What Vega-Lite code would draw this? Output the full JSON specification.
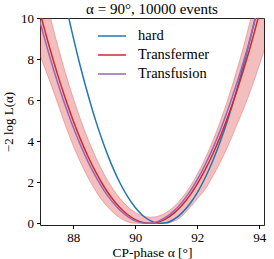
{
  "$schema": "https://vega.github.io/schema/vega-lite/v6.json",
  "autosize": {"type": "none"},
  "padding": {"left": 40, "top": 18, "right": 10, "bottom": 34},
  "width": 224,
  "height": 207,
  "title": {"text": "α = 90°, 10000 events", "frame": "group", "fontSize": 15, "fontWeight": "normal", "font": "Liberation Serif", "color": "#000", "offset": -17, "anchor": "middle", "baseline": "alphabetic"},
  "datasets": {
    "band": [
      {"x": 86.75, "hi": 13.38, "lo": 8.9},
      {"x": 87.0, "hi": 11.69, "lo": 7.9},
      {"x": 87.25, "hi": 10.12, "lo": 6.9},
      {"x": 87.5, "hi": 8.67, "lo": 5.85},
      {"x": 87.75, "hi": 7.33, "lo": 4.76},
      {"x": 88.0, "hi": 6.11, "lo": 3.78},
      {"x": 88.25, "hi": 5.01, "lo": 2.92},
      {"x": 88.5, "hi": 4.02, "lo": 2.16},
      {"x": 88.75, "hi": 3.15, "lo": 1.52},
      {"x": 89.0, "hi": 2.39, "lo": 0.99},
      {"x": 89.25, "hi": 1.75, "lo": 0.58},
      {"x": 89.5, "hi": 1.23, "lo": 0.27},
      {"x": 89.75, "hi": 0.82, "lo": 0.08},
      {"x": 90.0, "hi": 0.53, "lo": 0},
      {"x": 90.25, "hi": 0.36, "lo": 0},
      {"x": 90.5, "hi": 0.30, "lo": 0},
      {"x": 90.75, "hi": 0.36, "lo": 0},
      {"x": 91.0, "hi": 0.53, "lo": 0},
      {"x": 91.25, "hi": 0.82, "lo": 0.1},
      {"x": 91.5, "hi": 1.23, "lo": 0.35},
      {"x": 91.75, "hi": 1.75, "lo": 0.75},
      {"x": 92.0, "hi": 2.39, "lo": 1.2},
      {"x": 92.25, "hi": 3.15, "lo": 1.65},
      {"x": 92.5, "hi": 4.02, "lo": 2.3},
      {"x": 92.75, "hi": 5.01, "lo": 3.0},
      {"x": 93.0, "hi": 6.11, "lo": 3.8},
      {"x": 93.25, "hi": 7.33, "lo": 4.7},
      {"x": 93.5, "hi": 8.67, "lo": 5.6},
      {"x": 93.75, "hi": 10.12, "lo": 6.6},
      {"x": 94.0, "hi": 11.69, "lo": 7.7},
      {"x": 94.25, "hi": 13.38, "lo": 8.9}
    ],
    "lines": [
      {"s": "hard", "x": 86.75, "y": 18.88},
      {"s": "hard", "x": 87.0, "y": 16.63},
      {"s": "hard", "x": 87.25, "y": 14.53},
      {"s": "hard", "x": 87.5, "y": 12.57},
      {"s": "hard", "x": 87.75, "y": 10.74},
      {"s": "hard", "x": 88.0, "y": 9.07},
      {"s": "hard", "x": 88.25, "y": 7.53},
      {"s": "hard", "x": 88.5, "y": 6.14},
      {"s": "hard", "x": 88.75, "y": 4.88},
      {"s": "hard", "x": 89.0, "y": 3.78},
      {"s": "hard", "x": 89.25, "y": 2.81},
      {"s": "hard", "x": 89.5, "y": 1.99},
      {"s": "hard", "x": 89.75, "y": 1.31},
      {"s": "hard", "x": 90.0, "y": 0.77},
      {"s": "hard", "x": 90.25, "y": 0.37},
      {"s": "hard", "x": 90.5, "y": 0.12},
      {"s": "hard", "x": 90.75, "y": 0.005},
      {"s": "hard", "x": 91.0, "y": 0.03},
      {"s": "hard", "x": 91.25, "y": 0.20},
      {"s": "hard", "x": 91.5, "y": 0.50},
      {"s": "hard", "x": 91.75, "y": 0.93},
      {"s": "hard", "x": 92.0, "y": 1.50},
      {"s": "hard", "x": 92.25, "y": 2.21},
      {"s": "hard", "x": 92.5, "y": 3.05},
      {"s": "hard", "x": 92.75, "y": 4.02},
      {"s": "hard", "x": 93.0, "y": 5.13},
      {"s": "hard", "x": 93.25, "y": 6.38},
      {"s": "hard", "x": 93.5, "y": 7.76},
      {"s": "hard", "x": 93.75, "y": 9.27},
      {"s": "hard", "x": 94.0, "y": 10.92},
      {"s": "hard", "x": 94.25, "y": 12.71},
      {"s": "Transfermer", "x": 86.75, "y": 11.35},
      {"s": "Transfermer", "x": 87.0, "y": 9.87},
      {"s": "Transfermer", "x": 87.25, "y": 8.50},
      {"s": "Transfermer", "x": 87.5, "y": 7.23},
      {"s": "Transfermer", "x": 87.75, "y": 6.07},
      {"s": "Transfermer", "x": 88.0, "y": 5.00},
      {"s": "Transfermer", "x": 88.25, "y": 4.04},
      {"s": "Transfermer", "x": 88.5, "y": 3.18},
      {"s": "Transfermer", "x": 88.75, "y": 2.43},
      {"s": "Transfermer", "x": 89.0, "y": 1.77},
      {"s": "Transfermer", "x": 89.25, "y": 1.22},
      {"s": "Transfermer", "x": 89.5, "y": 0.77},
      {"s": "Transfermer", "x": 89.75, "y": 0.43},
      {"s": "Transfermer", "x": 90.0, "y": 0.18},
      {"s": "Transfermer", "x": 90.25, "y": 0.04},
      {"s": "Transfermer", "x": 90.5, "y": 0.001},
      {"s": "Transfermer", "x": 90.75, "y": 0.06},
      {"s": "Transfermer", "x": 91.0, "y": 0.23},
      {"s": "Transfermer", "x": 91.25, "y": 0.50},
      {"s": "Transfermer", "x": 91.5, "y": 0.87},
      {"s": "Transfermer", "x": 91.75, "y": 1.34},
      {"s": "Transfermer", "x": 92.0, "y": 1.92},
      {"s": "Transfermer", "x": 92.25, "y": 2.60},
      {"s": "Transfermer", "x": 92.5, "y": 3.38},
      {"s": "Transfermer", "x": 92.75, "y": 4.26},
      {"s": "Transfermer", "x": 93.0, "y": 5.25},
      {"s": "Transfermer", "x": 93.25, "y": 6.34},
      {"s": "Transfermer", "x": 93.5, "y": 7.53},
      {"s": "Transfermer", "x": 93.75, "y": 8.82},
      {"s": "Transfermer", "x": 94.0, "y": 10.22},
      {"s": "Transfermer", "x": 94.25, "y": 11.72},
      {"s": "Transfusion", "x": 86.75, "y": 10.86},
      {"s": "Transfusion", "x": 87.0, "y": 9.42},
      {"s": "Transfusion", "x": 87.25, "y": 8.08},
      {"s": "Transfusion", "x": 87.5, "y": 6.85},
      {"s": "Transfusion", "x": 87.75, "y": 5.71},
      {"s": "Transfusion", "x": 88.0, "y": 4.68},
      {"s": "Transfusion", "x": 88.25, "y": 3.76},
      {"s": "Transfusion", "x": 88.5, "y": 2.93},
      {"s": "Transfusion", "x": 88.75, "y": 2.21},
      {"s": "Transfusion", "x": 89.0, "y": 1.58},
      {"s": "Transfusion", "x": 89.25, "y": 1.07},
      {"s": "Transfusion", "x": 89.5, "y": 0.65},
      {"s": "Transfusion", "x": 89.75, "y": 0.34},
      {"s": "Transfusion", "x": 90.0, "y": 0.12},
      {"s": "Transfusion", "x": 90.25, "y": 0.02},
      {"s": "Transfusion", "x": 90.5, "y": 0.01},
      {"s": "Transfusion", "x": 90.75, "y": 0.11},
      {"s": "Transfusion", "x": 91.0, "y": 0.31},
      {"s": "Transfusion", "x": 91.25, "y": 0.61},
      {"s": "Transfusion", "x": 91.5, "y": 1.01},
      {"s": "Transfusion", "x": 91.75, "y": 1.52},
      {"s": "Transfusion", "x": 92.0, "y": 2.13},
      {"s": "Transfusion", "x": 92.25, "y": 2.84},
      {"s": "Transfusion", "x": 92.5, "y": 3.65},
      {"s": "Transfusion", "x": 92.75, "y": 4.57},
      {"s": "Transfusion", "x": 93.0, "y": 5.59},
      {"s": "Transfusion", "x": 93.25, "y": 6.71},
      {"s": "Transfusion", "x": 93.5, "y": 7.93},
      {"s": "Transfusion", "x": 93.75, "y": 9.26},
      {"s": "Transfusion", "x": 94.0, "y": 10.69},
      {"s": "Transfusion", "x": 94.25, "y": 12.22}
    ]
  },
  "layer": [
    {
      "data": {"name": "band"},
      "mark": {"type": "area", "clip": true, "interpolate": "monotone", "fill": "#d62728", "fillOpacity": 0.3, "stroke": "#d62728", "strokeOpacity": 0.3, "strokeWidth": 1},
      "encoding": {
        "x": {"field": "x", "type": "quantitative", "scale": {"domain": [86.93, 94.15], "nice": false, "zero": false},
              "axis": {"title": "CP-phase α [°]", "titleFontSize": 13.5, "values": [88, 90, 92, 94], "labelPadding": 3, "titlePadding": 1}},
        "y": {"field": "hi", "type": "quantitative", "scale": {"domain": [-0.08, 10], "nice": false, "zero": false},
              "axis": {"title": "−2 log L(α)", "values": [0, 2, 4, 6, 8, 10], "labelPadding": 3, "titlePadding": 5}},
        "y2": {"field": "lo"}
      }
    },
    {
      "data": {"name": "lines"},
      "mark": {"type": "line", "clip": true, "interpolate": "monotone", "strokeWidth": 1.5},
      "encoding": {
        "x": {"field": "x", "type": "quantitative"},
        "y": {"field": "y", "type": "quantitative"},
        "color": {"field": "s", "type": "nominal",
                  "scale": {"domain": ["hard", "Transfermer", "Transfusion"], "range": ["#1f77b4", "#d62728", "#9467bd"]},
                  "legend": {"title": null, "orient": "none", "legendX": 61.5, "legendY": 7.5, "symbolType": "M-1.474,0H1.474", "symbolSize": 361, "symbolStrokeWidth": 1.5, "labelFont": "Liberation Serif", "labelFontSize": 14.5, "labelColor": "#000", "labelOffset": 15.5, "rowPadding": 2, "padding": 0}}
      }
    }
  ],
  "config": {
    "view": {"stroke": "#222", "strokeWidth": 1},
    "axis": {"grid": false, "domain": false, "ticks": true, "tickColor": "#000", "tickSize": 3.5, "labelFont": "Liberation Serif", "labelFontSize": 13, "labelColor": "#000", "titleFont": "Liberation Serif", "titleFontSize": 13, "titleFontWeight": "normal", "titleColor": "#000"}
  }
}
